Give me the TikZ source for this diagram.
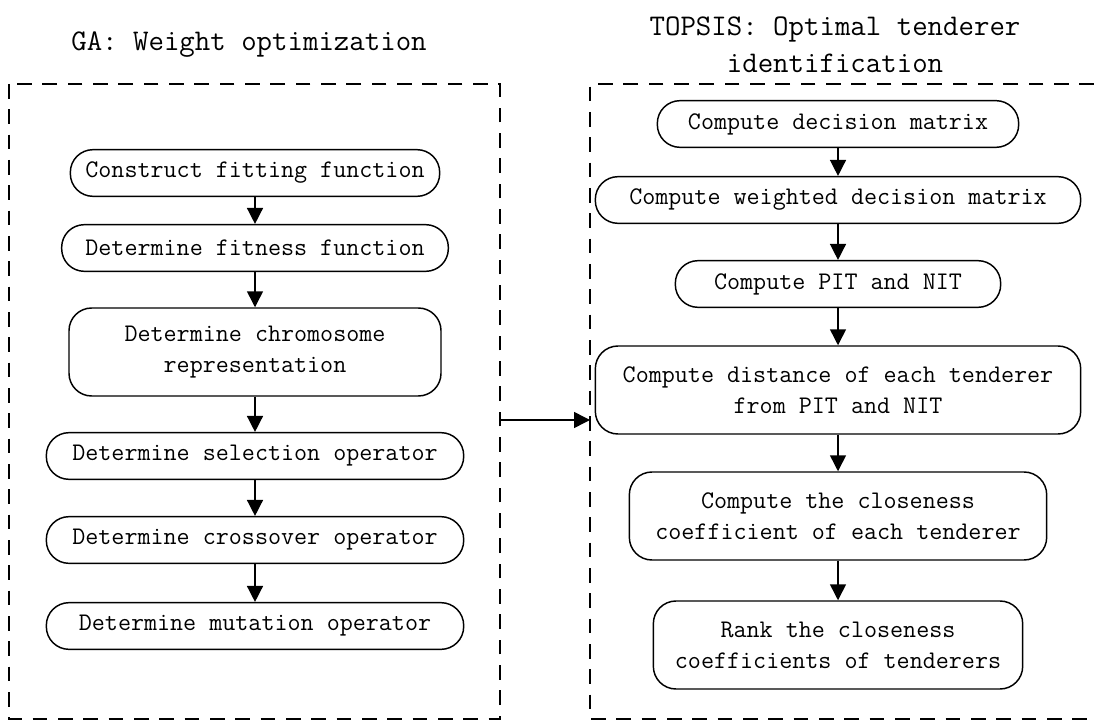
\documentclass[tikz,border=0pt]{standalone}
\usepackage{tikz}
\usetikzlibrary{arrows.meta,positioning,calc}
\tikzset{
  proc/.style={draw, line width=1.1pt, rounded corners=17pt, align=center,
    font=\ttfamily\fontsize{19}{23.5}\selectfont, minimum height=35pt, inner xsep=4pt},
  flow/.style={line width=1.1pt, -{Triangle[length=12pt,width=12pt]}},
  frame/.style={dash pattern=on 11pt off 8pt, line width=1.1pt},
  ttl/.style={font=\ttfamily\fontsize{22.5}{28}\selectfont, align=center}
}
\begin{document}
\begin{tikzpicture}[x=0.75pt,y=-0.75pt]
    \useasboundingbox (0,0) rectangle (1094,723);

    % Titles
    \node[ttl] (gattl) at (249,45) {GA: Weight optimization};
    \node[ttl] (tpttl) at (835,45) {TOPSIS: Optimal tenderer\\identification};

    % Dashed frames
    \draw[frame] (9,84) rectangle (500,719);
    \draw[frame] (1094,84) -- (590,84) -- (590,719) -- (1094,719);
    \coordinate (gaout) at (500,420);
    \coordinate (tpin) at (590,420);

    % GA steps
    \node[proc, minimum width=277pt] (fitfn) at (255,173) {Construct fitting function};
    \node[proc, minimum width=290pt] (fitness) at (255,248) {Determine fitness function};
    \node[proc, minimum width=279pt, minimum height=66pt] (chrom) at (255,352) {Determine chromosome\\representation};
    \node[proc, minimum width=313pt] (select) at (255,456) {Determine selection operator};
    \node[proc, minimum width=313pt] (cross) at (255,540) {Determine crossover operator};
    \node[proc, minimum width=313pt] (mutate) at (255,626) {Determine mutation operator};

    % TOPSIS steps
    \node[proc, minimum width=271pt] (decmat) at (838,124) {Compute decision matrix};
    \node[proc, minimum width=364pt] (wdecmat) at (838,200) {Compute weighted decision matrix};
    \node[proc, minimum width=244pt] (pitnit) at (838,284) {Compute PIT and NIT};
    \node[proc, minimum width=364pt, minimum height=66pt] (dist) at (838,390) {Compute distance of each tenderer\\from PIT and NIT};
    \node[proc, minimum width=313pt, minimum height=66pt] (close) at (838,516) {Compute the closeness\\coefficient of each tenderer};
    \node[proc, minimum width=277pt, minimum height=66pt] (rank) at (838,645) {Rank the closeness\\coefficients of tenderers};

    % Arrows
    \draw[flow] (fitfn) -- (fitness);
    \draw[flow] (fitness) -- (chrom);
    \draw[flow] (chrom) -- (select);
    \draw[flow] (select) -- (cross);
    \draw[flow] (cross) -- (mutate);
    \draw[flow] (decmat) -- (wdecmat);
    \draw[flow] (wdecmat) -- (pitnit);
    \draw[flow] (pitnit) -- (dist);
    \draw[flow] (dist) -- (close);
    \draw[flow] (close) -- (rank);
    \draw[flow] (gaout) -- (tpin);

\end{tikzpicture}
\end{document}
